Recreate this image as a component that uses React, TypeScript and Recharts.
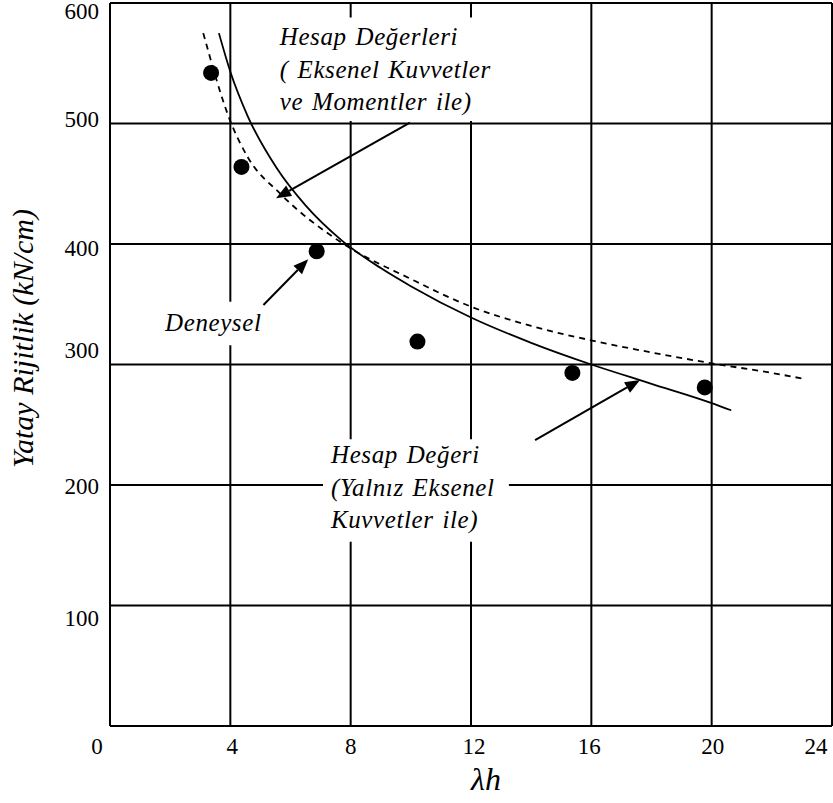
import React from "react";
import {
    CartesianGrid,
    ComposedChart,
    Line,
    ReferenceArea,
    ReferenceLine,
    Scatter,
    XAxis,
    YAxis
} from "recharts";

// axis ticks
const xTicks = [0, 4, 8, 12, 16, 20, 24];
const yTicks = [0, 100, 200, 300, 400, 500, 600];

// Deneysel (test points)
const testX = [3.36, 4.37, 6.87, 10.22, 15.37, 19.77];
const testY = [542, 464, 394, 319, 293, 281];

// Hesap Değeri (Yalnız Eksenel Kuvvetler ile) - solid
const axialX = [3.62, 4.0, 4.58, 5.54, 6.5, 7.7, 9, 10, 12, 14, 16, 18, 20, 20.65];
const axialY = [575, 543, 506, 463, 432, 403, 380, 365, 339, 318, 300, 284, 268, 262];

// Hesap Değerleri (Eksenel Kuvvetler ve Momentler ile) - dashed
const momentX = [3.1, 4.0, 4.58, 5.65, 7.64, 10, 12, 14, 16, 18, 20, 22, 23.09];
const momentY = [575, 502, 472, 442, 402, 371, 348, 332, 320, 310, 301, 293, 288];

// note texts
const momentNote = ["Hesap Değerleri", "( Eksenel Kuvvetler", "ve Momentler ile)"];
const axialNote = ["Hesap Değeri", "(Yalnız Eksenel", "Kuvvetler ile)"];
const testNote = ["Deneysel"];

const zip = (xs: number[], ys: number[]) => xs.map((x, i) => ({x, y: ys[i]}));
const testData = zip(testX, testY);
const axialData = zip(axialX, axialY);
const momentData = zip(momentX, momentY);

const FONT = "'Liberation Serif', 'Times New Roman', serif";

// white label boxes (data coords) and arrows
const notes = [
    {lines: momentNote, x1: 5.51, x2: 13.36, y1: 502, y2: 588, padX: 4, padY: 28, wordSpacing: 2},
    {lines: axialNote, x1: 7.08, x2: 13.26, y1: 153, y2: 238, padX: 8, padY: 24, wordSpacing: 2},
    {lines: testNote, x1: 1.73, x2: 5.05, y1: 316, y2: 352, padX: 3, padY: 29, wordSpacing: 0},
];
const arrows = [
    {from: {x: 9.97, y: 500.7}, to: {x: 5.52, y: 438}},
    {from: {x: 5.10, y: 349.4}, to: {x: 6.59, y: 387.3}},
    {from: {x: 14.13, y: 237.3}, to: {x: 17.62, y: 287.1}},
];

const xShift: Record<number, number> = {0: -13, 4: 2, 8: 0, 12: 3, 16: -2, 20: 1, 24: -16};
const yShift: Record<number, number> = {100: 12, 200: 1, 300: -15, 400: 4, 500: -5, 600: 8};

const XTick = (props: any) => {
    const {x, y, payload} = props;
    return (
        <text x={x + (xShift[payload.value] ?? 0)} y={y + 26} textAnchor="middle"
              fontFamily={FONT} fontSize={23} fill="#000">{payload.value}</text>
    );
};

const YTick = (props: any) => {
    const {x, y, payload} = props;
    if (payload.value === 0) return null;
    return (
        <text x={x - 9} y={y + (yShift[payload.value] ?? 0)} dy="0.35em" textAnchor="end"
              fontFamily={FONT} fontSize={23} fill="#000">{payload.value}</text>
    );
};

const YTitle = (props: any) => {
    const {viewBox} = props;
    const cx = viewBox.x + 33;
    const cy = viewBox.y + viewBox.height / 2 - 26;
    return (
        <text x={cx} y={cy} transform={`rotate(-90, ${cx}, ${cy})`} textAnchor="middle"
              fontFamily={FONT} fontStyle="italic" fontSize={30} fill="#000">Yatay Rijitlik (kN/cm)</text>
    );
};

const XTitle = (props: any) => {
    const {viewBox} = props;
    return (
        <text x={viewBox.x + viewBox.width / 2 + 15} y={viewBox.y + 64} textAnchor="middle"
              fontFamily={FONT} fontStyle="italic" fontSize={32} fill="#000">λh</text>
    );
};

const NoteText = (props: any) => {
    const {viewBox, lines, padX, padY, wordSpacing} = props;
    return (
        <text fontFamily={FONT} fontStyle="italic" fontSize={25} fill="#000"
              style={{wordSpacing, letterSpacing: 0.6}}>
            {lines.map((t: string, i: number) => (
                <tspan key={i} x={viewBox.x + padX} y={viewBox.y + padY + i * 32.5}>{t}</tspan>
            ))}
        </text>
    );
};

const Arrow = (props: any) => {
    const {x1, y1, x2, y2} = props;
    const a = Math.atan2(y2 - y1, x2 - x1);
    const len = 15, half = 6;
    const bx = x2 - len * Math.cos(a), by = y2 - len * Math.sin(a);
    const px = -Math.sin(a) * half, py = Math.cos(a) * half;
    return (
        <g>
            <line x1={x1} y1={y1} x2={bx} y2={by} stroke="#000" strokeWidth={2}/>
            <polygon points={`${x2},${y2} ${bx + px},${by + py} ${bx - px},${by - py}`} fill="#000"/>
        </g>
    );
};

const Dot = (props: any) => <circle cx={props.cx} cy={props.cy} r={8} fill="#000"/>;

export default function App() {
    return (
        <div style={{position: "absolute", left: 0, top: 0, width: 833, height: 803, background: "#fff"}}>
            <ComposedChart width={833} height={803} margin={{top: 3, right: 1, bottom: 0, left: 0}}>
                <CartesianGrid stroke="#000" strokeWidth={2} strokeOpacity={1}/>
                <XAxis type="number" dataKey="x" domain={[0, 24]} ticks={xTicks} interval={0}
                       height={77} tickSize={0} axisLine={false} tick={<XTick/>} label={<XTitle/>}/>
                <YAxis type="number" dataKey="y" domain={[0, 600]} ticks={yTicks} interval={0}
                       width={110} tickSize={0} axisLine={false} tick={<YTick/>} label={<YTitle/>}/>
                <Line data={momentData} dataKey="y" type="monotone" stroke="#000" strokeWidth={1.8}
                      strokeDasharray="6 5" dot={false} isAnimationActive={false}/>
                <Line data={axialData} dataKey="y" type="monotone" stroke="#000" strokeWidth={1.8}
                      dot={false} isAnimationActive={false}/>
                <Scatter data={testData} dataKey="y" shape={<Dot/>} isAnimationActive={false}/>
                {notes.map((n, i) => (
                    <ReferenceArea key={i} x1={n.x1} x2={n.x2} y1={n.y1} y2={n.y2}
                                   fill="#fff" fillOpacity={1} stroke="none" ifOverflow="visible"
                                   label={<NoteText lines={n.lines} padX={n.padX} padY={n.padY}
                                                    wordSpacing={n.wordSpacing}/>}/>
                ))}
                {arrows.map((a, i) => (
                    <ReferenceLine key={i} segment={[a.from, a.to]} shape={<Arrow/>} ifOverflow="visible"/>
                ))}
            </ComposedChart>
        </div>
    );
}
